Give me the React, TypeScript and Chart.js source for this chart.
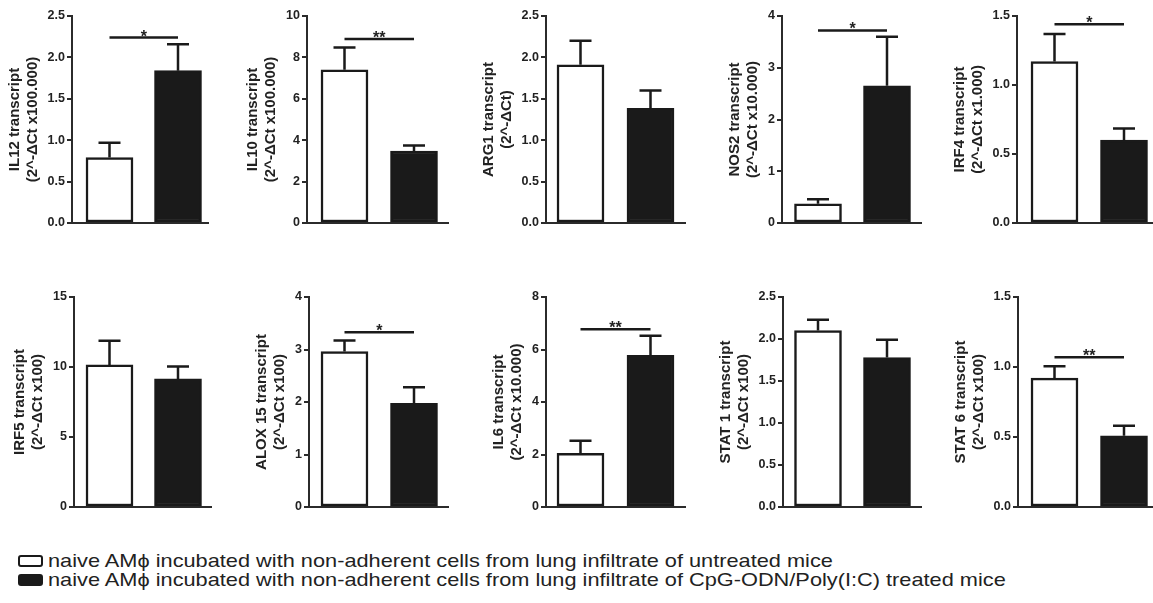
import React, { useEffect, useRef } from "react";
import { Chart, registerables } from "chart.js";

Chart.register(...registerables);

// ---------- data ----------
const genes = ["IL12", "IL10", "ARG1", "NOS2", "IRF4", "IRF5", "ALOX 15", "IL6", "STAT 1", "STAT 6"];
const yUnits = [
  "(2^-ΔCt x100.000)",
  "(2^-ΔCt x100.000)",
  "(2^-ΔCt)",
  "(2^-ΔCt x10.000)",
  "(2^-ΔCt x1.000)",
  "(2^-ΔCt x100)",
  "(2^-ΔCt x100)",
  "(2^-ΔCt x10.000)",
  "(2^-ΔCt x100)",
  "(2^-ΔCt x100)",
];
const untreatedMean = [0.79, 7.4, 1.91, 0.37, 1.17, 10.15, 2.96, 2.04, 2.1, 0.92];
const untreatedSem = [0.18, 1.08, 0.29, 0.09, 0.2, 1.72, 0.21, 0.48, 0.13, 0.085];
const treatedMean = [1.84, 3.48, 1.385, 2.65, 0.6, 9.15, 1.975, 5.78, 1.78, 0.509];
const treatedSem = [0.32, 0.26, 0.215, 0.95, 0.085, 0.88, 0.305, 0.74, 0.21, 0.071];
const yMax = [2.5, 10, 2.5, 4, 1.5, 15, 4, 8, 2.5, 1.5];
const yStep = [0.5, 2, 0.5, 1, 0.5, 5, 1, 2, 0.5, 0.5];
const sigLabel = ["*", "**", "", "*", "*", "", "*", "**", "", "**"];
const sigLevel: (number | null)[] = [2.24, 8.89, null, 3.72, 1.44, null, 3.33, 6.77, null, 1.07];
const groupLabels = [
  "naive AMϕ incubated with non-adherent cells from lung infiltrate of untreated mice",
  "naive AMϕ incubated with non-adherent cells from lung infiltrate of CpG-ODN/Poly(I:C) treated mice",
];

// ---------- layout / style ----------
const INK = "#1a1a1a";
const AXIS = "#2b2b2b";
const TEXT = "#222222";
const FONT = "'Liberation Sans', Arial, Helvetica, sans-serif";

const COL_LEFT = [0, 230, 460, 690, 920];
const COL_W = [230, 230, 230, 232, 233];
const ROW_CANVAS_TOP = [0, 268];
const ROW_CANVAS_H = [240, 252];
const ROW_TOP = [16, 297];
const ROW_BOTTOM = [223, 507];
const AXIS_X = [72, 307, 546, 782, 1017, 74, 309, 546, 783, 1018];
const AXIS_END = [208, 448, 685, 922, 1153, 211, 448, 685, 922, 1153];
const BAR_CENTERS = [
  [109.5, 178],
  [344.5, 414],
  [580.5, 650.5],
  [818, 887],
  [1054.5, 1124],
];

function annotPlugin(i: number) {
  return {
    id: "annot" + i,
    afterDatasetsDraw(chart: any) {
      const ctx = chart.ctx as CanvasRenderingContext2D;
      const meta = chart.getDatasetMeta(0);
      const ys = chart.scales.y;
      const means = [untreatedMean[i], treatedMean[i]];
      const sems = [untreatedSem[i], treatedSem[i]];
      ctx.save();
      ctx.strokeStyle = INK;
      ctx.lineWidth = 2.5;
      ctx.lineCap = "butt";
      meta.data.forEach((bar: any, j: number) => {
        const x = bar.x;
        const y0 = ys.getPixelForValue(means[j]);
        const y1 = ys.getPixelForValue(means[j] + sems[j]);
        ctx.beginPath();
        ctx.moveTo(x, y0);
        ctx.lineTo(x, y1);
        ctx.moveTo(x - 11, y1);
        ctx.lineTo(x + 11, y1);
        ctx.stroke();
      });
      const lvl = sigLevel[i];
      if (lvl != null) {
        const y = ys.getPixelForValue(lvl);
        const xa = meta.data[0].x;
        const xb = meta.data[1].x;
        ctx.beginPath();
        ctx.moveTo(xa, y);
        ctx.lineTo(xb, y);
        ctx.stroke();
        ctx.fillStyle = TEXT;
        ctx.font = `bold 16px ${FONT}`;
        ctx.textAlign = "center";
        ctx.textBaseline = "alphabetic";
        ctx.fillText(sigLabel[i], (xa + xb) / 2, y + 4);
      }
      ctx.restore();
    },
  };
}

function Panel({ i }: { i: number }) {
  const ref = useRef<HTMLCanvasElement | null>(null);
  const row = Math.floor(i / 5);
  const col = i % 5;
  const left = COL_LEFT[col];
  const width = COL_W[col];
  const top = ROW_CANVAS_TOP[row];
  const height = ROW_CANVAS_H[row];

  useEffect(() => {
    if (!ref.current) return;
    const tLeft = AXIS_X[i] - left;
    const tRight = AXIS_END[i] - left;
    const tTop = ROW_TOP[row] - top;
    const tBottom = ROW_BOTTOM[row] - top;
    const [c1, c2] = BAR_CENTERS[col];
    const ppu = c2 - c1;
    const xMin = 1 - (c1 - AXIS_X[i]) / ppu;
    const xMax = 2 + (AXIS_END[i] - c2) / ppu;
    const dec = yStep[i] < 1 ? 1 : 0;
    let pad = { left: 0, right: width - tRight, top: tTop, bottom: height - tBottom };

    const chart = new Chart(ref.current, {
      type: "bar",
      data: {
        datasets: [
          {
            data: [
              { x: 1, y: untreatedMean[i] },
              { x: 2, y: treatedMean[i] },
            ],
            backgroundColor: ["#ffffff", INK],
            borderColor: INK,
            borderWidth: 2.5,
            borderSkipped: false,
            barThickness: 47,
          } as any,
        ],
      },
      options: {
        responsive: false,
        animation: false,
        devicePixelRatio: 1,
        layout: { padding: { ...pad } },
        plugins: { legend: { display: false }, tooltip: { enabled: false } },
        scales: {
          x: {
            type: "linear",
            min: xMin,
            max: xMax,
            offset: false,
            grid: { display: false },
            ticks: { display: false },
            border: { display: true, color: AXIS, width: 2 },
          },
          y: {
            min: 0,
            max: yMax[i],
            ticks: {
              stepSize: yStep[i],
              color: TEXT,
              padding: 2,
              font: { family: FONT, size: 12.5, weight: "bold" },
              callback: (v: any) => Number(v).toFixed(dec),
            },
            grid: {
              drawOnChartArea: false,
              drawTicks: true,
              tickLength: 5,
              color: AXIS,
              lineWidth: 2,
            },
            border: { display: true, color: AXIS, width: 2 },
            title: {
              display: true,
              text: [genes[i] + " transcript", yUnits[i]],
              color: TEXT,
              font: { family: FONT, size: 15, weight: "bold", lineHeight: 1.2 },
              padding: { top: 0, bottom: 4 },
            },
          },
        },
      } as any,
      plugins: [annotPlugin(i)],
    });

    for (let k = 0; k < 2; k++) {
      const ca = chart.chartArea;
      pad = {
        left: pad.left + (tLeft - ca.left),
        right: pad.right + (ca.right - tRight),
        top: pad.top + (tTop - ca.top),
        bottom: pad.bottom + (ca.bottom - tBottom),
      };
      (chart.options as any).layout.padding = { ...pad };
      chart.update();
    }

    return () => chart.destroy();
  }, [i]);

  return (
    <canvas
      ref={ref}
      width={width}
      height={height}
      style={{ position: "absolute", left, top, width, height }}
    />
  );
}

function LegendRow({ idx, top }: { idx: number; top: number }) {
  return (
    <div style={{ position: "absolute", left: 0, top, height: 20 }}>
      <div
        style={{
          position: "absolute",
          left: 18,
          top: 3,
          width: 25,
          height: 12,
          boxSizing: "border-box",
          border: `2.5px solid ${INK}`,
          borderRadius: 3,
          background: idx === 0 ? "#ffffff" : INK,
        }}
      />
      <div
        style={{
          position: "absolute",
          left: 48,
          top: -1,
          whiteSpace: "nowrap",
          fontFamily: FONT,
          fontSize: 19,
          lineHeight: "20px",
          color: TEXT,
          transform: "scaleX(1.145)",
          transformOrigin: "0 50%",
        }}
      >
        {groupLabels[idx]}
      </div>
    </div>
  );
}

export default function App() {
  return (
    <div
      style={{
        position: "absolute",
        left: 0,
        top: 0,
        width: 1153,
        height: 603,
        background: "#ffffff",
        overflow: "hidden",
      }}
    >
      {genes.map((_, i) => (
        <Panel key={i} i={i} />
      ))}
      <LegendRow idx={0} top={552} />
      <LegendRow idx={1} top={571} />
    </div>
  );
}
